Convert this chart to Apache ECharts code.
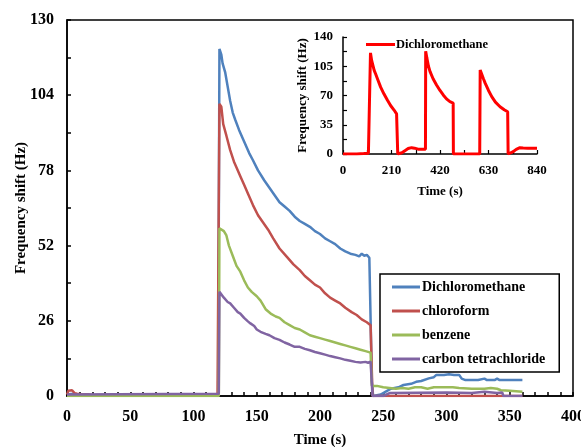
<!DOCTYPE html>
<html>
<head>
<meta charset="utf-8">
<script src="https://cdn.jsdelivr.net/npm/echarts@6/dist/echarts.min.js"></script>
<style>
html,body{margin:0;padding:0;background:#fff;}
#chart{width:581px;height:447px;}
</style>
</head>
<body>
<div id="chart"></div>
<script>
// ---- Main chart data: [time (s), frequency shift (Hz)] ----
const seriesNames = ['Dichloromethane', 'chloroform', 'benzene', 'carbon tetrachloride'];
const xTicks = [0, 50, 100, 150, 200, 250, 300, 350, 400];
const yTicks = [0, 26, 52, 78, 104, 130];
const insetXTicks = [0, 210, 420, 630, 840];
const insetYTicks = [0, 35, 70, 105, 140];

const dichloromethane = [
  [0,0.5],[5,0.8],[10,0.3],[15,0.5],[20,0.3],[60,0.3],[100,0.3],[119.5,0.3],
  [120.5,120],[122,118],[123,115],[125,112],[127,107],[129,102],[131,98],[133,95.5],
  [136,92],[140,88],[144,84],[147,81.5],[151,78],[156,74.5],[160,72],[164,69.5],
  [168,67],[172,65.5],[176,64],[180,62],[184,60.5],[188,59.5],[192,58.5],[196,57],
  [200,56],[204,54.5],[208,53.5],[212,52.5],[216,51],[220,50],[224,49.2],[228,48.8],
  [231,48.3],[233,49.2],[235,48.5],[237,48.8],[239,47.8],[240,47.5],[241,5],[242,0],
  [248,0.5],[252,1.5],[256,2.5],[262,3],[266,3.8],[272,4.2],[276,4.9],[280,5.2],
  [286,6.1],[290,6.5],[292,7.3],[298,7.3],[302,7.5],[306,7.3],[310,7.3],[312,6],
  [315,5.5],[325,5.5],[330,6],[332,5.5],[338,5.5],[340,6],[342,5.5],[360,5.5]
];
const chloroform = [
  [0,0.5],[1,1.8],[4,2],[6,1],[8,0.8],[12,0.5],[17,0.5],[20,0.3],[119,0.3],
  [120.5,101],[122,100],[123.5,94],[126,90],[129,85],[132,81],[134,79],[137,76],
  [140,73],[143,70],[147,66],[151,62.5],[155,60],[159,57.5],[163,54.5],[168,51],
  [174,48],[179,45.5],[184,43.5],[188,41.5],[192,40],[196,38.5],[200,37.5],[204,35.5],
  [208,34],[212,33],[216,32],[220,30.5],[225,29],[229,28],[233,26.5],[237,25.5],
  [240,24.5],[241.5,0],[360,0]
];
const benzene = [
  [0,0],[120,0],[120.5,58],[122,58],[124,57],[126,55.5],[128,52],[131,48.5],[134,45],
  [137,43],[140,40],[143,37.5],[146,36],[150,34.5],[153,33],[157,30],[161,28.5],
  [165,27.5],[168,27],[172,25.5],[176,24.5],[180,23.5],[184,23],[188,22],[192,21],
  [196,20.5],[200,20],[204,19.5],[208,19],[212,18.5],[216,18],[220,17.5],[224,17],
  [228,16.5],[232,16],[236,15.5],[240,15],[241,3.5],[245,3.5],[250,3],[255,2.8],
  [260,2.5],[265,2.8],[270,2.5],[275,3],[280,3],[285,2.5],[290,3],[295,3],[300,3],
  [305,3],[310,2.8],[320,2.5],[330,2.5],[335,2.8],[340,2.5],[343,2],[350,1.8],[360,1.5]
];
const carbonTetrachloride = [
  [0,0.5],[120,0.8],[120.5,36],[122,35.5],[124,34],[127,32.5],[129,32],[132,30.5],
  [135,29],[137,28.5],[140,27],[143,25.8],[145,25.1],[148,24.2],[150,23],[153,22.2],
  [157,21.5],[160,21],[164,20],[168,19.4],[172,18.5],[176,17.8],[180,17],[184,17],
  [188,16.3],[192,15.8],[196,15.2],[200,14.8],[204,14.3],[208,13.8],[212,13.4],
  [216,13],[220,12.5],[224,12.2],[228,11.8],[232,11.6],[236,11.8],[238,11.5],
  [240,11.9],[241.5,0],[250,0],[255,1],[300,1.2],[320,1],[330,1.5],[340,1],
  [344,1.2],[345,0],[360,0]
];

// ---- Inset data: three cycles of Dichloromethane ----
const insetDichloromethane = [
  [0,0],[60,0],[90,0.5],[110,1],[118,1.5],
  [119,121],[124,112],[135,100],[141,96],[152,88],[163,80],[177,72],[192,64.5],
  [206,58],[221,52.6],[232,48],[236,47],[237,0],
  [245,0],[255,1.5],[268,4],[282,6.5],[297,7.6],[310,7],[325,5.8],[340,5.6],[357,5.6],
  [358,123],[363,115],[370,105],[377,98.5],[390,90],[405,82.6],[420,76],[434,70.6],
  [448,66],[463,62.6],[477,61],[478,0],
  [592,0],[594,100.5],[600,96],[608,90],[616,84.5],[630,76],[644,68.6],[660,62],
  [680,56.6],[698,53],[713,50.6],[715,0],
  [722,0],[735,2.5],[750,5.5],[766,7.6],[780,7.2],[800,7],[820,7],[840,7]
];

const colors = ['#4F81BD', '#C0504D', '#9BBB59', '#8064A2'];
const mainData = [dichloromethane, chloroform, benzene, carbonTetrachloride];
const FONT = 'Liberation Serif';

const chart = echarts.init(document.getElementById('chart'), null, {renderer: 'canvas'});

const series = mainData.map((d, i) => ({
  name: seriesNames[i],
  type: 'line',
  xAxisIndex: 0, yAxisIndex: 0,
  data: d,
  showSymbol: false,
  symbol: 'none',
  lineStyle: {color: colors[i], width: 2.5},
  itemStyle: {color: colors[i]},
  z: 3 + i
}));
series.push({
  name: 'inset',
  type: 'line',
  xAxisIndex: 1, yAxisIndex: 1,
  data: insetDichloromethane,
  showSymbol: false,
  symbol: 'none',
  lineStyle: {color: '#FF0000', width: 3},
  itemStyle: {color: '#FF0000'},
  z: 10
});

const axisText = (size) => ({color: '#000', fontFamily: FONT, fontWeight: 'bold', fontSize: size});

chart.setOption({
  animation: false,
  backgroundColor: '#fff',
  grid: [
    {left: 67, top: 20, right: 8, bottom: 51, show: true, borderColor: '#000', borderWidth: 1.5,
     containLabel: false, outerBoundsMode: 'none'},
    {left: 343, top: 37, width: 194, height: 117, containLabel: false, outerBoundsMode: 'none'}
  ],
  legend: [
    {
      data: seriesNames,
      orient: 'vertical',
      left: 380, top: 274,
      padding: [5, 14, 5, 12],
      itemWidth: 28, itemHeight: 3, itemGap: 8,
      icon: 'rect',
      borderColor: '#000', borderWidth: 1.5,
      backgroundColor: '#fff',
      textStyle: Object.assign(axisText(14), {lineHeight: 16, padding: [0, 0, 0, -3]}),
      selectedMode: false
    },
    {
      data: ['inset'],
      left: 366, top: 38,
      padding: 0,
      itemWidth: 29, itemHeight: 3,
      icon: 'rect',
      formatter: () => 'Dichloromethane',
      textStyle: Object.assign(axisText(12.5), {padding: [0, 0, 0, -4]}),
      selectedMode: false
    }
  ],
  xAxis: [
    {
      type: 'value', gridIndex: 0, min: xTicks[0], max: xTicks[xTicks.length - 1], interval: 50,
      name: 'Time (s)', nameLocation: 'middle', nameGap: 37, nameMoveOverlap: false,
      nameTextStyle: axisText(15),
      axisLine: {show: true, lineStyle: {color: '#000', width: 1.5}},
      axisTick: {show: true, inside: true, length: 4, lineStyle: {color: '#000', width: 1.5}},
      minorTick: {show: true, splitNumber: 5, length: 4, lineStyle: {color: '#000', width: 1.5}},
      axisLabel: Object.assign(axisText(16), {margin: 13}),
      splitLine: {show: false}
    },
    {
      type: 'value', gridIndex: 1, min: insetXTicks[0], max: insetXTicks[insetXTicks.length - 1], interval: 210,
      name: 'Time (s)', nameLocation: 'middle', nameGap: 31, nameMoveOverlap: false,
      nameTextStyle: axisText(13),
      axisLine: {show: true, lineStyle: {color: '#000', width: 1.5}},
      axisTick: {show: true, inside: true, length: 4, lineStyle: {color: '#000', width: 1.2}},
      minorTick: {show: true, splitNumber: 2, length: 4, lineStyle: {color: '#000', width: 1.2}},
      axisLabel: Object.assign(axisText(13), {margin: 10}),
      splitLine: {show: false}
    }
  ],
  yAxis: [
    {
      type: 'value', gridIndex: 0, min: yTicks[0], max: yTicks[yTicks.length - 1], interval: 26,
      name: 'Frequency shift (Hz)', nameLocation: 'middle', nameGap: 38, nameRotate: 90,
      nameMoveOverlap: false,
      nameTextStyle: axisText(15),
      axisLine: {show: true, lineStyle: {color: '#000', width: 1.5}},
      axisTick: {show: true, inside: true, length: 4, lineStyle: {color: '#000', width: 1.5}},
      minorTick: {show: true, splitNumber: 2, length: 4, lineStyle: {color: '#000', width: 1.5}},
      axisLabel: Object.assign(axisText(16), {margin: 13}),
      splitLine: {show: false}
    },
    {
      type: 'value', gridIndex: 1, min: insetYTicks[0], max: insetYTicks[insetYTicks.length - 1], interval: 35,
      name: 'Frequency shift (Hz)', nameLocation: 'middle', nameGap: 34, nameRotate: 90,
      nameMoveOverlap: false,
      nameTextStyle: axisText(13),
      axisLine: {show: true, lineStyle: {color: '#000', width: 1.5}},
      axisTick: {show: true, inside: true, length: 4, lineStyle: {color: '#000', width: 1.2}},
      minorTick: {show: true, splitNumber: 2, length: 4, lineStyle: {color: '#000', width: 1.2}},
      axisLabel: Object.assign(axisText(13), {margin: 10}),
      splitLine: {show: false}
    }
  ],
  series: series
});
</script>
</body>
</html>
